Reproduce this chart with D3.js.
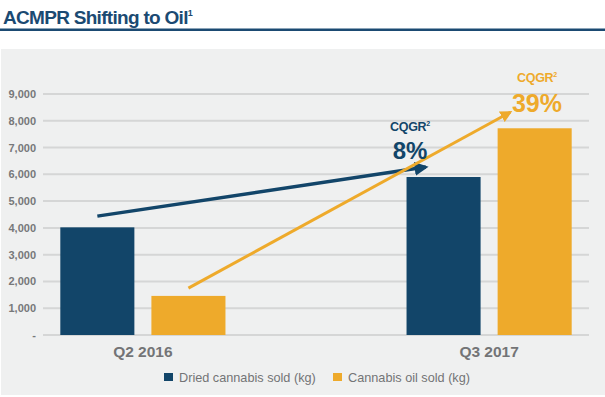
<!DOCTYPE html>
<html>
<head>
<meta charset="utf-8">
<script src="https://cdn.jsdelivr.net/npm/d3@7"></script>
<style>
  body { margin: 0; background: #fff; }
  svg { display: block; font-family: "Liberation Sans", Arial, sans-serif; }
  .grid line { stroke: #d5d6d6; stroke-width: 2; }
</style>
</head>
<body>
<svg id="chart"></svg>
<script>
const categories = ["Q2 2016", "Q3 2017"];
const seriesNames = ["Dried cannabis sold (kg)", "Cannabis oil sold (kg)"];
const driedValues = [4020, 5900];
const oilValues = [1460, 7720];
const yTicks = [0, 1000, 2000, 3000, 4000, 5000, 6000, 7000, 8000, 9000];
const colors = ["#124569", "#eeaa2b"];

// growth arrows: start/end in data terms (category, position in bar, value)
const arrows = [
  { series: 0, from: [0, 0.5, 4440], to: [1, 0.26, 6270], label: "CQGR", pct: "8%" },
  { series: 1, from: [0, 0.5, 1750], to: [1, 0.17, 8320], label: "CQGR", pct: "39%" }
];

const width = 605, height = 397;
const svg = d3.select("#chart").attr("width", width).attr("height", height);

// title
svg.append("text")
  .attr("x", 3).attr("y", 24)
  .attr("fill", "#1b4a72")
  .attr("font-size", 19).attr("font-weight", "bold")
  .attr("letter-spacing", -0.7)
  .text("ACMPR Shifting to Oil")
  .append("tspan").attr("font-size", 9).attr("dy", -8).text("1");

svg.append("rect").attr("x", 0).attr("y", 28.5).attr("width", width).attr("height", 2.5).attr("fill", "#1b4a72");

// panel
svg.append("rect").attr("x", 1).attr("y", 49).attr("width", width - 1).attr("height", 346).attr("fill", "#eff0f0");

const y = d3.scaleLinear().domain([0, 9000]).range([335, 94]);
const x0 = d3.scaleBand().domain(categories).range([43, 589]).paddingInner(0.523).paddingOuter(0.05);
const x1 = d3.scaleBand().domain([0, 1]).range([0, x0.bandwidth()]).paddingInner(0.187);

// grid
svg.append("g").attr("class", "grid")
  .selectAll("line").data(yTicks).join("line")
  .attr("x1", 43).attr("x2", 589)
  .attr("y1", d => y(d)).attr("y2", d => y(d));

// y labels
svg.append("g").selectAll("text").data(yTicks).join("text")
  .attr("x", 36).attr("y", d => y(d) + 4)
  .attr("text-anchor", "end")
  .attr("font-size", 11).attr("font-weight", "bold").attr("fill", "#77787a")
  .text(d => d === 0 ? "-" : d3.format(",")(d));

// bars
const data = categories.map((c, i) => ({ cat: c, values: [driedValues[i], oilValues[i]] }));
svg.append("g").selectAll("g").data(data).join("g")
  .attr("transform", d => `translate(${x0(d.cat)},0)`)
  .selectAll("rect").data(d => d.values).join("rect")
  .attr("x", (d, i) => x1(i))
  .attr("width", x1.bandwidth())
  .attr("y", d => y(d))
  .attr("height", d => y(0) - y(d))
  .attr("fill", (d, i) => colors[i]);

// category labels
svg.append("g").selectAll("text").data(categories).join("text")
  .attr("x", d => x0(d) + x0.bandwidth() / 2)
  .attr("y", 357)
  .attr("text-anchor", "middle")
  .attr("font-size", 15.5).attr("font-weight", "bold").attr("fill", "#737476")
  .text(d => d);

// arrows
const defs = svg.append("defs");
colors.forEach((c, i) => {
  defs.append("marker")
    .attr("id", "arrow" + i)
    .attr("viewBox", "0 0 10 10").attr("refX", 8).attr("refY", 5)
    .attr("markerWidth", 4).attr("markerHeight", 4)
    .attr("markerUnits", "strokeWidth")
    .attr("orient", "auto")
    .append("path").attr("d", "M0,0 L10,5 L0,10 Z").attr("fill", c);
});

function pt(p, s) {
  return [x0(categories[p[0]]) + x1(s) + p[1] * x1.bandwidth(), y(p[2])];
}

arrows.forEach(a => {
  const s = pt(a.from, a.series), e = pt(a.to, a.series);
  svg.append("line")
    .attr("x1", s[0]).attr("y1", s[1]).attr("x2", e[0]).attr("y2", e[1])
    .attr("stroke", colors[a.series])
    .attr("stroke-width", a.series === 0 ? 3.5 : 3)
    .attr("marker-end", `url(#arrow${a.series})`);
});

// growth labels
const labels = [
  { a: arrows[0], cx: 410, y1: 131, y2: 159, size: 24 },
  { a: arrows[1], cx: 537, y1: 82, y2: 112, size: 25 }
];
labels.forEach(l => {
  const c = colors[l.a.series];
  const t = svg.append("text").attr("x", l.cx).attr("y", l.y1).attr("text-anchor", "middle")
    .attr("font-size", 12.5).attr("font-weight", "bold").attr("fill", c).attr("letter-spacing", -0.3)
    .text(l.a.label);
  t.append("tspan").attr("font-size", 7).attr("dy", -5).text("2");
  svg.append("text").attr("x", l.cx).attr("y", l.y2).attr("text-anchor", "middle")
    .attr("font-size", l.size).attr("font-weight", "bold").attr("fill", c)
    .text(l.a.pct);
});

// legend
const legendX = [164, 333];
const legend = svg.append("g").selectAll("g").data(seriesNames).join("g")
  .attr("transform", (d, i) => `translate(${legendX[i]},373)`);
legend.append("rect").attr("width", 9).attr("height", 8).attr("fill", (d, i) => colors[i]);
legend.append("text").attr("x", 15).attr("y", 8.5)
  .attr("font-size", 12.7).attr("fill", "#737476")
  .text(d => d);
</script>
</body>
</html>
